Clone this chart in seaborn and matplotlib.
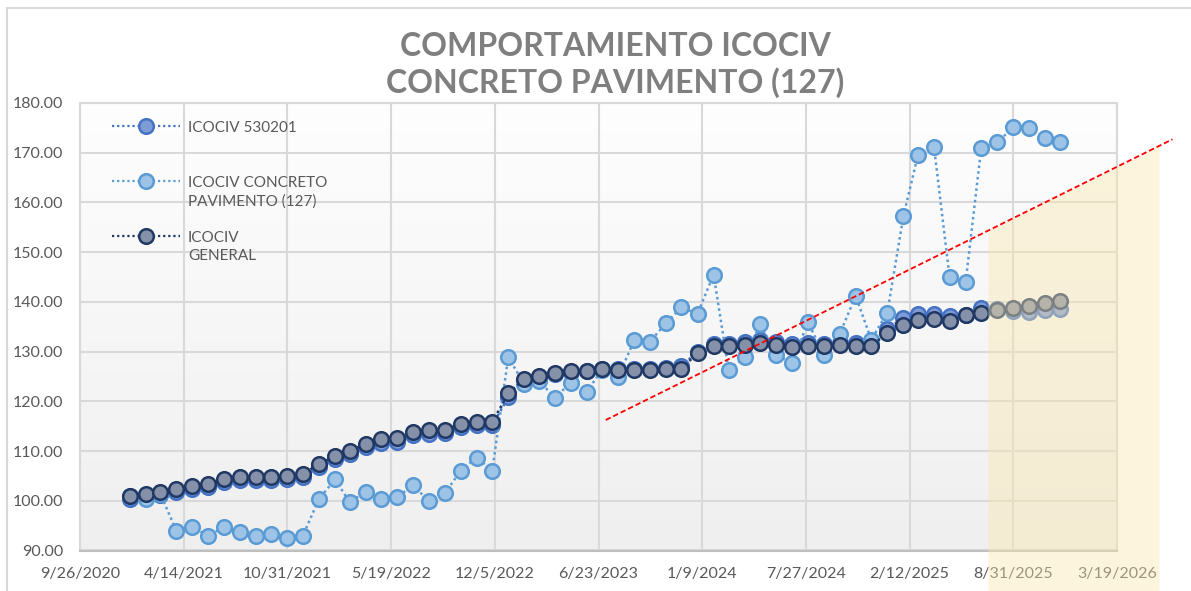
import numpy as np
import pandas as pd
import matplotlib
matplotlib.use('Agg')
import matplotlib.pyplot as plt
import matplotlib.dates as mdates
from matplotlib.lines import Line2D
from matplotlib.colors import LinearSegmentedColormap
import seaborn as sns

# monthly values, Dec 2020 .. Nov 2025
dates = pd.date_range('2020-12-31', periods=60, freq='ME')

icociv_530201 = [
    100.4, 100.8, 101.2, 101.8, 102.4, 102.8, 103.8, 104.1, 104.1, 104.2,
    104.3, 104.8, 106.8, 108.4, 109.5, 110.8, 111.7, 111.9, 113.2, 113.5,
    113.7, 114.9, 115.3, 115.2, 120.8, 124.1, 124.8, 125.5, 125.9, 126.0,
    126.6, 126.5, 126.5, 126.6, 126.8, 127.1, 130.0, 131.6, 131.6, 131.9,
    132.3, 131.9, 131.5, 131.7, 131.6, 131.8, 131.7, 131.7, 134.6, 136.8,
    137.5, 137.6, 137.2, 137.4, 138.85, 138.6, 138.2, 137.9, 138.3, 138.5,
]
icociv_concreto = [
    100.9, 100.4, 101.4, 93.9, 94.65, 93.0, 94.65, 93.7, 93.0, 93.3,
    92.55, 93.0, 100.4, 104.3, 99.75, 101.75, 100.4, 100.7, 103.15, 99.9,
    101.5, 106.05, 108.7, 106.05, 128.9, 123.4, 124.1, 120.75, 123.7, 121.95,
    126.3, 124.9, 132.3, 132.0, 135.7, 138.9, 137.6, 145.5, 126.3, 128.9,
    135.5, 129.3, 127.7, 135.9, 129.3, 133.5, 141.2, 132.4, 137.85, 157.2,
    169.5, 171.25, 145.1, 143.9, 170.85, 172.1, 175.1, 174.95, 173.05, 172.2,
]
icociv_general = [
    100.95, 101.35, 101.8, 102.35, 102.95, 103.4, 104.4, 104.7, 104.7, 104.8,
    104.9, 105.4, 107.4, 109.0, 110.1, 111.4, 112.35, 112.55, 113.8, 114.15,
    114.3, 115.5, 115.9, 115.8, 121.6, 124.45, 125.0, 125.6, 126.0, 126.1,
    126.45, 126.3, 126.3, 126.4, 126.5, 126.6, 129.7, 131.1, 131.1, 131.35,
    131.75, 131.35, 130.95, 131.15, 131.1, 131.25, 131.15, 131.15, 133.75, 135.3,
    136.4, 136.5, 136.2, 137.3, 137.7, 138.3, 138.7, 139.2, 139.7, 140.2,
]

series_labels = ['ICOCIV 530201', 'ICOCIV CONCRETO\nPAVIMENTO (127)', 'ICOCIV\nGENERAL']

# hand-drawn trend line and shaded projection zone
trend_dates = pd.to_datetime(['2023-07-07', '2026-07-04'])
trend_values = [116.24, 172.7]
shade_dates = pd.to_datetime(['2025-07-13', '2026-06-08'])

x_ticks = pd.date_range('2020-09-26', periods=11, freq='200D')
y_ticks = np.arange(90, 181, 10)

W, H = 1191, 591
sns.set_style('white')
plt.rcParams['font.family'] = ['Lato', 'DejaVu Sans']

fig = plt.figure(figsize=(W / 100, H / 100), dpi=100)
ax = fig.add_axes([80 / W, 1 - 550.5 / H, (1117 - 80) / W, (550.5 - 103) / H])

# plot area gradient
bg = LinearSegmentedColormap.from_list('bg', ['#EFEFEF', '#FEFEFE'])
ax.imshow(np.linspace(0, 1, 256).reshape(-1, 1), cmap=bg, origin='lower',
          extent=[0, 1, 0, 1], transform=ax.transAxes, aspect='auto', zorder=0)

dot = (0, (1, 1.3))
styles = [
    (icociv_530201, '#4472C4', '#7F9BD6', '#4472C4'),
    (icociv_concreto, '#5B9BD5', '#9DC3E6', '#5B9BD5'),
    (icociv_general, '#203864', '#8591A8', '#203864'),
]
for i, (vals, lc, fc, ec) in enumerate(styles):
    sns.lineplot(x=dates, y=vals, ax=ax, color=lc, linestyle=dot, linewidth=1.8,
                 marker='o', markersize=10.5, markerfacecolor=fc,
                 markeredgecolor=ec, markeredgewidth=1.8, sort=False,
                 errorbar=None, legend=False, zorder=3 + i)

ax.plot(trend_dates, trend_values, color='#FF0000', linestyle=(0, (3, 1.6)),
        linewidth=1.3, clip_on=False, zorder=8)

tnum = mdates.date2num(trend_dates)
snum = mdates.date2num(shade_dates)
shade_top = np.interp(snum, tnum, trend_values)
ax.fill_between(shade_dates, [78, 78], shade_top, color='#FBE6AE', alpha=0.42,
                linewidth=0, clip_on=False, zorder=7)

ax.set_xlim(x_ticks[0], x_ticks[-1])
ax.set_ylim(90, 180)
ax.set_xticks(x_ticks)
ax.set_xticklabels([f'{d.month}/{d.day}/{d.year}' for d in x_ticks])
ax.set_yticks(y_ticks)
ax.set_yticklabels([f'{v:.2f}' for v in y_ticks])
ax.tick_params(axis='both', length=0, labelsize=11.5, labelcolor='#595959')
ax.tick_params(axis='x', pad=12)
ax.tick_params(axis='y', pad=12)
ax.set_xlabel('')
ax.set_ylabel('')
ax.grid(True, color='#D9D9D9', linewidth=1.5)
ax.set_axisbelow(True)
for side, sp in ax.spines.items():
    sp.set_visible(True)
    sp.set_color('#D9D9D9')
    sp.set_linewidth(1.5)
ax.spines['bottom'].set_color('#BFBFBF')

fig.text(615 / W, 1 - 65 / H, 'COMPORTAMIENTO ICOCIV\nCONCRETO PAVIMENTO (127)',
         ha='center', va='center', fontsize=23, fontweight='bold',
         color='#7F7F7F', linespacing=1.25)

# legend, Excel style (marker aligned with the first text line)
leg_y = [126, 181, 236]
for (vals, lc, fc, ec), label, y in zip(styles, series_labels, leg_y):
    fig.add_artist(Line2D([112 / W, 146 / W, 180 / W], [1 - y / H] * 3,
                          color=lc, linestyle=dot, linewidth=1.6, marker='o',
                          markevery=[1], markersize=10.5, markerfacecolor=fc,
                          markeredgecolor=ec, markeredgewidth=1.8))
    fig.text(188 / W, 1 - (y - 5) / H, label, ha='left', va='top',
             fontsize=11, color='#595959', linespacing=1.35)

# chart outer border
fig.add_artist(Line2D([7 / W, 1], [1 - 8 / H] * 2, color='#D9D9D9', linewidth=1.5))
fig.add_artist(Line2D([7 / W, 7 / W], [0, 1 - 8 / H], color='#D9D9D9', linewidth=1.5))

fig.savefig('out.png', dpi=100)
plt.close(fig)
